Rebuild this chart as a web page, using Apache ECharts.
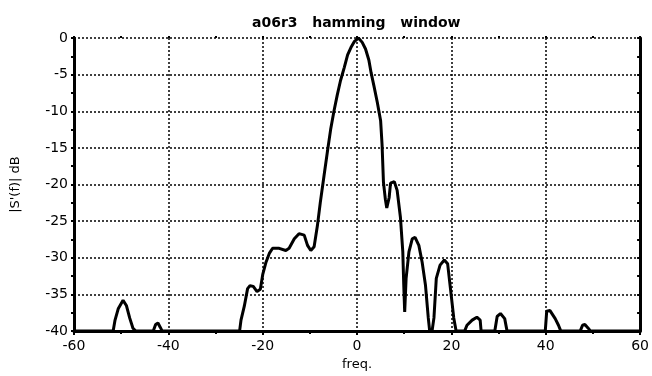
<!DOCTYPE html>
<html>
<head>
<meta charset="utf-8">
<script src="https://cdn.jsdelivr.net/npm/echarts@6/dist/echarts.min.js"></script>
<style>html,body{margin:0;padding:0;background:#fff;}#c{width:652px;height:376px;}</style>
</head>
<body>
<div id="c"></div>
<script>
const titleText = 'a06r3   hamming   window';
const xName = 'freq.';
const yName = "|S'(f)| dB";
const freq = [-60, -51.7, -51.3, -50.6, -49.6, -48.9, -48.2, -47.5, -46.9, -43.2, -42.7, -42.2, -41.7, -41.3,
  -24.9, -24.6, -23.9, -23.2, -22.7, -22.0, -21.2, -20.5, -20.0, -19.3, -18.6, -17.9, -16.5, -15.1, -14.4,
  -13.3, -12.3, -11.2, -10.5, -9.8, -9.1, -8.4, -7.8, -7.0, -6.3, -5.6, -4.9, -4.2, -3.5, -2.7, -2.0, -1.3,
  -0.6, 0.3, 1.1, 1.8, 2.5, 3.0, 3.6, 4.3, 5.0, 5.3, 5.6, 6.0, 6.3, 6.8, 7.1, 7.9, 8.5, 9.2, 9.7, 9.9, 10.1,
  10.4, 11.0, 11.7, 12.3, 13.1, 13.8, 14.5, 15.1, 15.4, 15.9, 16.3, 16.8, 17.6, 18.5, 19.2, 19.8, 20.5, 21.0,
  22.8, 23.3, 24.4, 25.4, 26.1, 26.3, 29.2, 29.7, 30.4, 31.3, 31.8, 39.9, 40.2, 40.9, 42.0, 42.7, 43.2,
  47.3, 47.8, 48.3, 49.0, 49.5, 60];
const dB = [-40, -40, -38.5, -36.9, -35.8, -36.5, -38.2, -39.6, -40, -40, -39.1, -38.9, -39.5, -40,
  -40, -38.5, -36.6, -34.2, -33.8, -33.9, -34.6, -34.3, -32.3, -30.6, -29.4, -28.7, -28.7, -29.0, -28.7,
  -27.4, -26.7, -26.9, -28.3, -29.0, -28.5, -25.6, -22.5, -18.8, -15.6, -12.5, -10.0, -7.8, -5.8, -4.0, -2.3, -1.3,
  -0.5, 0, -0.6, -1.5, -3.0, -4.8, -6.6, -8.8, -11.3, -14.5, -19.7, -22.0, -23.2, -21.8, -19.8, -19.6, -20.8, -24.5, -29.2, -33.7, -37.4,
  -32.8, -29.2, -27.4, -27.2, -28.3, -30.6, -33.7, -38.2, -40, -40, -38.2, -32.8, -31.0, -30.3, -30.8, -34.2, -38.2, -40,
  -40, -39.2, -38.5, -38.1, -38.5, -40, -40, -38.0, -37.6, -38.3, -40, -40, -37.3, -37.2, -38.3, -39.2, -40,
  -40, -39.2, -39.1, -39.6, -40, -40];
const xTicks = [-60, -40, -20, 0, 20, 40, 60];
const yTicks = [0, -5, -10, -15, -20, -25, -30, -35, -40];

const points = freq.map((f, i) => [f, dB[i]]);
const labelFont = {color: '#000', fontSize: 14, fontFamily: 'DejaVu Sans'};
const gridLine = {show: true, lineStyle: {color: '#000', width: 1.5, type: [2, 2]}};
const chart = echarts.init(document.getElementById('c'));
chart.setOption({
  animation: false,
  backgroundColor: '#fff',
  title: {
    text: titleText, left: 247, top: 11,
    textStyle: {color: '#000', fontSize: 14, fontWeight: 'bold', fontFamily: 'DejaVu Sans'}
  },
  grid: {left: 74, right: 10, top: 38, bottom: 43},
  xAxis: [{
    type: 'value', min: xTicks[0], max: xTicks[xTicks.length - 1], interval: 20, position: 'bottom',
    name: xName, nameLocation: 'middle', nameGap: 26,
    nameTextStyle: Object.assign({}, labelFont, {fontSize: 13}),
    axisLine: {show: true, onZero: false, lineStyle: {color: '#000', width: 3}},
    axisTick: {show: true, length: 4, lineStyle: {color: '#000', width: 2}},
    minorTick: {show: true, splitNumber: 2, length: 3, lineStyle: {color: '#000', width: 2}},
    axisLabel: Object.assign({margin: 8}, labelFont),
    splitLine: gridLine
  }, {
    type: 'value', min: xTicks[0], max: xTicks[xTicks.length - 1], interval: 20, position: 'top',
    axisLine: {show: false},
    axisTick: {show: true, length: 2, lineStyle: {color: '#000', width: 2}},
    minorTick: {show: true, splitNumber: 2, length: 2, lineStyle: {color: '#000', width: 2}},
    axisLabel: {show: false}, splitLine: {show: false}
  }],
  yAxis: [{
    type: 'value', min: yTicks[yTicks.length - 1], max: yTicks[0], interval: 5, position: 'left',
    name: yName, nameLocation: 'middle', nameGap: 52, nameRotate: 90,
    nameTextStyle: Object.assign({}, labelFont, {fontSize: 13}),
    axisLine: {show: true, onZero: false, lineStyle: {color: '#000', width: 3}},
    axisTick: {show: true, length: 3, lineStyle: {color: '#000', width: 2}},
    minorTick: {show: true, splitNumber: 2, length: 3, lineStyle: {color: '#000', width: 2}},
    axisLabel: Object.assign({margin: 6}, labelFont),
    splitLine: gridLine
  }, {
    type: 'value', min: yTicks[yTicks.length - 1], max: yTicks[0], interval: 5, position: 'right',
    axisLine: {show: true, onZero: false, lineStyle: {color: '#000', width: 3}},
    axisTick: {show: true, inside: true, length: 3, lineStyle: {color: '#000', width: 2}},
    minorTick: {show: true, splitNumber: 2, length: 3, lineStyle: {color: '#000', width: 2}},
    axisLabel: {show: false}, splitLine: {show: false}
  }],
  series: [{
    type: 'line', data: points, showSymbol: false, smooth: false,
    lineStyle: {color: '#000', width: 3}, z: 5
  }]
});
</script>
</body>
</html>
